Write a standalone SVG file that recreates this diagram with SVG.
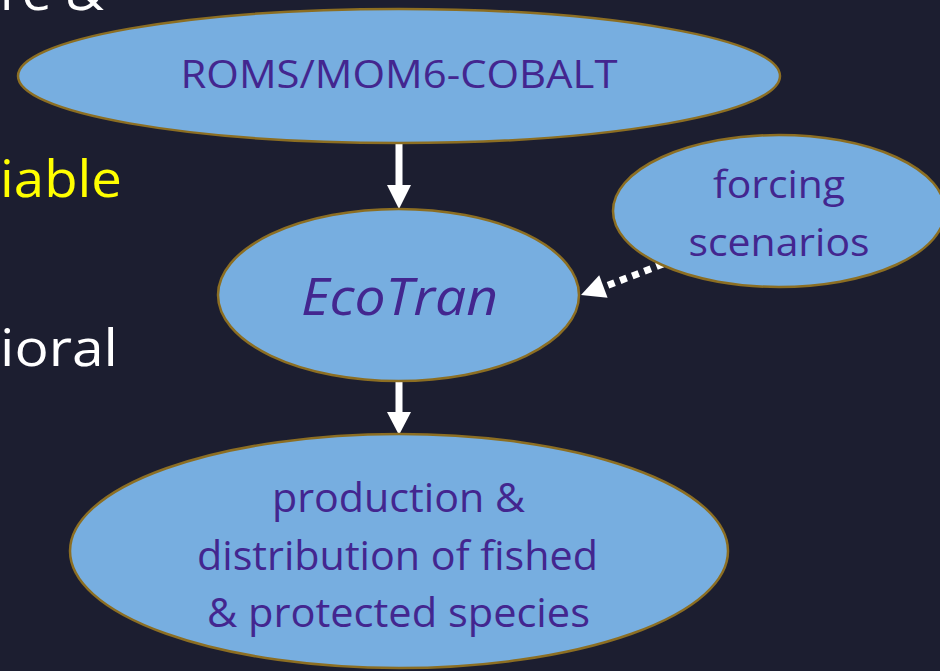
<svg xmlns="http://www.w3.org/2000/svg" width="940" height="671" viewBox="0 0 940 671">
<style>
.node{fill:#77aee0;stroke:#8c6e22;stroke-width:2.5}
.lbl{font-family:"Open Sans","Liberation Sans",sans-serif;fill:#43268f;text-anchor:middle}
.side{font-family:"Open Sans","Liberation Sans",sans-serif;font-size:52px}
.arr{fill:#ffffff}
</style>
<rect x="0" y="0" width="940" height="671" fill="#1c1e30"/>
<g id="side-text">
<text class="side" x="104" y="10" fill="#ffffff" text-anchor="end" textLength="104" lengthAdjust="spacingAndGlyphs">re &amp;</text>
<text class="side" x="122" y="197" fill="#ffff00" text-anchor="end" textLength="122" lengthAdjust="spacingAndGlyphs">iable</text>
<text class="side" x="118" y="366" fill="#ffffff" text-anchor="end" textLength="118" lengthAdjust="spacingAndGlyphs">ioral</text>
</g>
<g id="connectors">
<rect class="arr" x="395.5" y="143" width="7" height="43"/>
<polygon class="arr" points="387,185 411,185 399,209"/>
<rect class="arr" x="395.5" y="380" width="7" height="33"/>
<polygon class="arr" points="387,412 411,412 399,435"/>
<line x1="663" y1="264" x2="605" y2="286.5" stroke="#ffffff" stroke-width="7" stroke-dasharray="7 6"/>
<polygon class="arr" points="581,295 607.6,297.7 599.2,275.3"/>
</g>
<g id="roms">
<ellipse class="node" cx="399" cy="76" rx="381" ry="67"/>
<text class="lbl" x="399" y="88" font-size="38" textLength="437" lengthAdjust="spacingAndGlyphs">ROMS/MOM6-COBALT</text>
</g>
<g id="forcing">
<ellipse class="node" cx="779" cy="211" rx="166" ry="76"/>
<text class="lbl" x="779" y="198" font-size="38" textLength="132" lengthAdjust="spacingAndGlyphs">forcing</text>
<text class="lbl" x="779" y="256" font-size="38" textLength="181" lengthAdjust="spacingAndGlyphs">scenarios</text>
</g>
<g id="ecotran">
<ellipse class="node" cx="398.5" cy="295" rx="180.5" ry="86"/>
<text class="lbl" x="399.5" y="315" font-size="52" font-style="italic" textLength="197" lengthAdjust="spacingAndGlyphs">EcoTran</text>
</g>
<g id="production">
<ellipse class="node" cx="399" cy="551" rx="329" ry="117"/>
<text class="lbl" x="398.5" y="512" font-size="40" textLength="253" lengthAdjust="spacingAndGlyphs">production &amp;</text>
<text class="lbl" x="397.5" y="570" font-size="40" textLength="401" lengthAdjust="spacingAndGlyphs">distribution of fished</text>
<text class="lbl" x="398.5" y="627" font-size="40" textLength="383" lengthAdjust="spacingAndGlyphs">&amp; protected species</text>
</g>
</svg>
